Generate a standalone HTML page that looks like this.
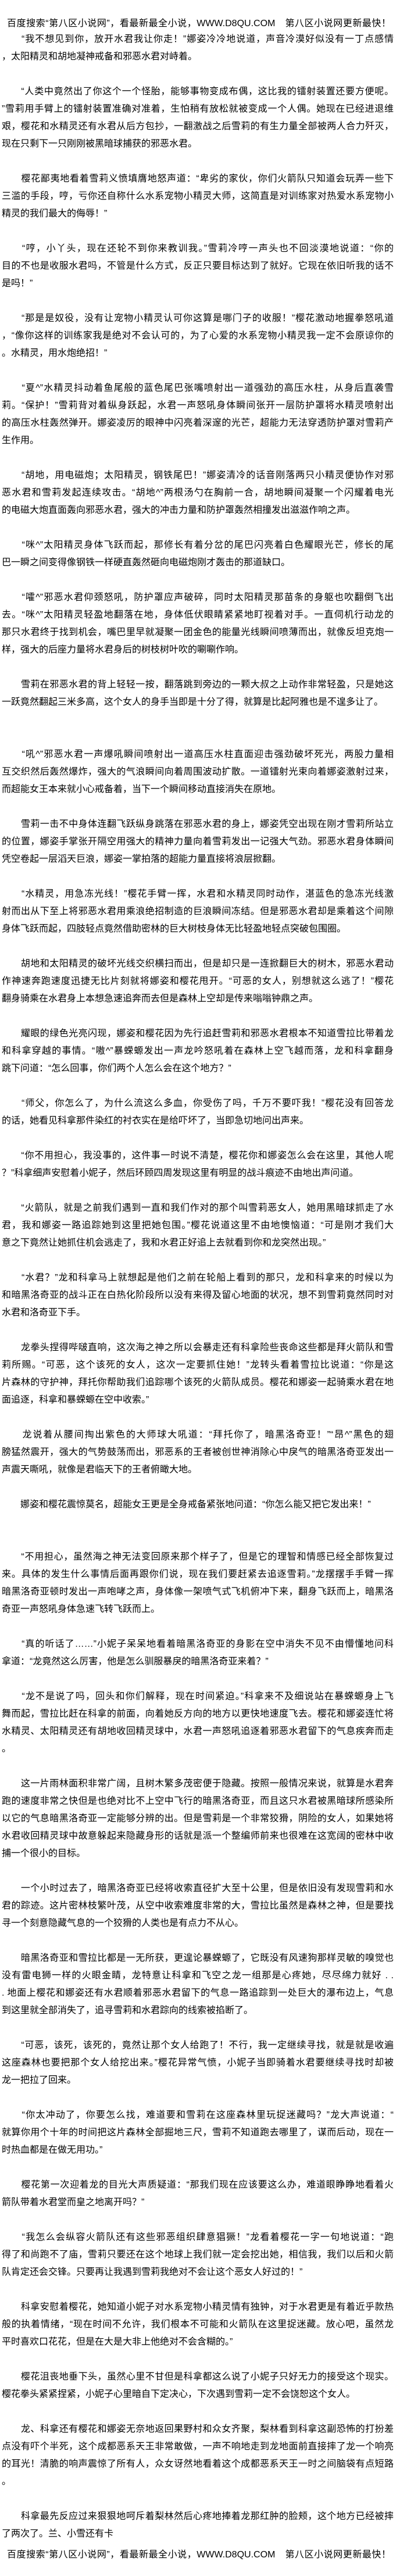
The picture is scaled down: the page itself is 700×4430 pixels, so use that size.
<!DOCTYPE html>
<html><head><meta charset="utf-8">
<style>
html,body{margin:0;padding:0;background:#fff;}
body{width:700px;height:4430px;overflow:hidden;position:relative;color:#000;
font-family:"Liberation Sans","Noto Sans CJK SC","WenQuanYi Zen Hei",sans-serif;font-size:16px;}
.hd{position:absolute;left:12px;width:660px;height:30px;line-height:30px;white-space:nowrap;text-align:justify;text-align-last:justify;}
#main{position:absolute;left:3px;top:53px;width:674px;}
.p{margin-bottom:30px;}
.p2{margin-bottom:60px;}
.f,.l{height:30px;line-height:30px;white-space:nowrap;}
.f{text-align:justify;text-align-last:justify;}
.l{text-align:left;}
</style></head><body>
<div class="hd" style="top:28px;height:25px;line-height:25px;">百度搜索“第八区小说网”，看最新最全小说，WWW.D8QU.COM　第八区小说网更新最快！</div>
<div id="main">
<div class="p"><div class="f">　　“我不想见到你，放开水君我让你走！”娜姿冷冷地说道，声音冷漠好似没有一丁点感情</div><div class="l">，太阳精灵和胡地凝神戒备和邪恶水君对峙着。</div></div>
<div class="p"><div class="f">　　“人类中竟然出了你这个一个怪胎，能够事物变成布偶，这比我的镭射装置还要方便呢。</div><div class="f">”雪莉用手臂上的镭射装置准确对准着，生怕稍有放松就被变成一个人偶。她现在已经进退维</div><div class="f">艰，樱花和水精灵还有水君从后方包抄，一翻激战之后雪莉的有生力量全部被两人合力歼灭，</div><div class="l">现在只剩下一只刚刚被黑暗球捕获的邪恶水君。</div></div>
<div class="p"><div class="f">　　樱花鄙夷地看着雪莉义愤填膺地怒声道：“卑劣的家伙，你们火箭队只知道会玩弄一些下</div><div class="f">三滥的手段，哼，亏你还自称什么水系宠物小精灵大师，这简直是对训练家对热爱水系宠物小</div><div class="l">精灵的我们最大的侮辱！”</div></div>
<div class="p"><div class="f">　　“哼，小丫头，现在还轮不到你来教训我。”雪莉冷哼一声头也不回淡漠地说道：“你的</div><div class="f">目的不也是收服水君吗，不管是什么方式，反正只要目标达到了就好。它现在依旧听我的话不</div><div class="l">是吗！”</div></div>
<div class="p"><div class="f">　　“那是是奴役，没有让宠物小精灵认可你这算是哪门子的收服！”樱花激动地握拳怒吼道</div><div class="f">，“像你这样的训练家我是绝对不会认可的，为了心爱的水系宠物小精灵我一定不会原谅你的</div><div class="l">。水精灵，用水炮绝招！”</div></div>
<div class="p"><div class="f">　　“夏^”水精灵抖动着鱼尾般的蓝色尾巴张嘴喷射出一道强劲的高压水柱，从身后直袭雪</div><div class="f">莉。“保护！”雪莉背对着纵身跃起，水君一声怒吼身体瞬间张开一层防护罩将水精灵喷射出</div><div class="f">的高压水柱轰然弹开。娜姿凌厉的眼神中闪亮着深邃的光芒，超能力无法穿透防护罩对雪莉产</div><div class="l">生作用。</div></div>
<div class="p"><div class="f">　　“胡地，用电磁炮；太阳精灵，钢铁尾巴！”娜姿清冷的话音刚落两只小精灵便协作对邪</div><div class="f">恶水君和雪莉发起连续攻击。“胡地^”两根汤勺在胸前一合，胡地瞬间凝聚一个闪耀着电光</div><div class="l">的电磁大炮直面轰向邪恶水君，强大的冲击力量和防护罩轰然相撞发出滋滋作响之声。</div></div>
<div class="p"><div class="f">　　“咪^”太阳精灵身体飞跃而起，那修长有着分岔的尾巴闪亮着白色耀眼光芒，修长的尾</div><div class="l">巴一瞬之间变得像钢铁一样硬直轰然砸向电磁炮刚才轰击的那道缺口。</div></div>
<div class="p"><div class="f">　　“嚯^”邪恶水君仰颈怒吼，防护罩应声破碎，同时太阳精灵那苗条的身躯也吹翻倒飞出</div><div class="f">去。“咪^”太阳精灵轻盈地翻落在地，身体低伏眼睛紧紧地盯视着对手。一直伺机行动龙的</div><div class="f">那只水君终于找到机会，嘴巴里早就凝聚一团金色的能量光线瞬间喷薄而出，就像反坦克炮一</div><div class="l">样，强大的后座力量将水君身后的树枝树叶吹的唰唰作响。</div></div>
<div class="p2"><div class="f">　　雪莉在邪恶水君的背上轻轻一按，翻落跳到旁边的一颗大叔之上动作非常轻盈，只是她这</div><div class="l">一跃竟然翻起三米多高，这个女人的身手当即是十分了得，就算是比起阿雅也是不遑多让了。</div></div>
<div class="p"><div class="f">　　“吼^”邪恶水君一声爆吼瞬间喷射出一道高压水柱直面迎击强劲破坏死光，两股力量相</div><div class="f">互交织然后轰然爆炸，强大的气浪瞬间向着周围波动扩散。一道镭射光束向着娜姿激射过来，</div><div class="l">而超能女王本来就小心戒备着，当下一个瞬间移动直接消失在原地。</div></div>
<div class="p"><div class="f">　　雪莉一击不中身体连翻飞跃纵身跳落在邪恶水君的身上，娜姿凭空出现在刚才雪莉所站立</div><div class="f">的位置，娜姿手掌张开隔空用强大的精神力量向着雪莉发出一记强大气劲。邪恶水君身体瞬间</div><div class="l">凭空卷起一层滔天巨浪，娜姿一掌拍落的超能力量直接将浪层掀翻。</div></div>
<div class="p"><div class="f">　　“水精灵，用急冻光线！”樱花手臂一挥，水君和水精灵同时动作，湛蓝色的急冻光线激</div><div class="f">射而出从下至上将邪恶水君用乘浪绝招制造的巨浪瞬间冻结。但是邪恶水君却是乘着这个间隙</div><div class="l">身体飞跃而起，四肢轻点竟然借助密林的巨大树枝身体无比轻盈地轻点突破包围圈。</div></div>
<div class="p"><div class="f">　　胡地和太阳精灵的破坏光线交织横扫而出，但是却只是一连掀翻巨大的树木，邪恶水君动</div><div class="f">作神速奔跑速度迅捷无比片刻就将娜姿和樱花甩开。“可恶的女人，别想就这么逃了！”樱花</div><div class="l">翻身骑乘在水君身上本想急速追奔而去但是森林上空却是传来嗡嗡钟鼎之声。</div></div>
<div class="p"><div class="f">　　耀眼的绿色光亮闪现，娜姿和樱花因为先行追赶雪莉和邪恶水君根本不知道雪拉比带着龙</div><div class="f">和科拿穿越的事情。“嗷^”暴蝾螈发出一声龙吟怒吼着在森林上空飞越而落，龙和科拿翻身</div><div class="l">跳下问道：“怎么回事，你们两个人怎么会在这个地方？”</div></div>
<div class="p"><div class="f">　　“师父，你怎么了，为什么流这么多血，你受伤了吗，千万不要吓我！”樱花没有回答龙</div><div class="l">的话，她看见科拿那件染红的衬衣实在是给吓坏了，当即急切地问出声来。</div></div>
<div class="p"><div class="f">　　“你不用担心，我没事的，这件事一时说不清楚，樱花你和娜姿怎么会在这里，其他人呢</div><div class="l">？”科拿细声安慰着小妮子，然后环顾四周发现这里有明显的战斗痕迹不由地出声问道。</div></div>
<div class="p"><div class="f">　　“火箭队，就是之前我们遇到一直和我们作对的那个叫雪莉恶女人，她用黑暗球抓走了水</div><div class="f">君，我和娜姿一路追踪她到这里把她包围。”樱花说道这里不由地懊恼道：“可是刚才我们大</div><div class="l">意之下竟然让她抓住机会逃走了，我和水君正好追上去就看到你和龙突然出现。”</div></div>
<div class="p"><div class="f">　　“水君？”龙和科拿马上就想起是他们之前在轮船上看到的那只，龙和科拿来的时候以为</div><div class="f">和暗黑洛奇亚的战斗正在白热化阶段所以没有来得及留心地面的状况，想不到雪莉竟然同时对</div><div class="l">水君和洛奇亚下手。</div></div>
<div class="p"><div class="f">　　龙拳头捏得哔啵直响，这次海之神之所以会暴走还有科拿险些丧命这些都是拜火箭队和雪</div><div class="f">莉所赐。“可恶，这个该死的女人，这次一定要抓住她！”龙转头看着雪拉比说道：“你是这</div><div class="f">片森林的守护神，拜托你帮助我们追踪哪个该死的火箭队成员。樱花和娜姿一起骑乘水君在地</div><div class="l">面追逐，科拿和暴蝾螈在空中收索。”</div></div>
<div class="p"><div class="f">　　龙说着从腰间掏出紫色的大师球大吼道：“拜托你了，暗黑洛奇亚！”“昂^”黑色的翅</div><div class="f">膀猛然震开，强大的气势鼓荡而出，邪恶系的王者被创世神消除心中戾气的暗黑洛奇亚发出一</div><div class="l">声震天嘶吼，就像是君临天下的王者俯瞰大地。</div></div>
<div class="p2"><div class="l">　　娜姿和樱花震惊莫名，超能女王更是全身戒备紧张地问道：“你怎么能又把它发出来！”</div></div>
<div class="p"><div class="f">　　“不用担心，虽然海之神无法变回原来那个样子了，但是它的理智和情感已经全部恢复过</div><div class="f">来。具体的发生什么事情后面再跟你们说，现在我们要赶紧去追逐雪莉。”龙摆摆手手臂一挥</div><div class="f">暗黑洛奇亚顿时发出一声咆哮之声，身体像一架喷气式飞机俯冲下来，翻身飞跃而上，暗黑洛</div><div class="l">奇亚一声怒吼身体急速飞转飞跃而上。</div></div>
<div class="p"><div class="f">　　“真的听话了……”小妮子呆呆地看着暗黑洛奇亚的身影在空中消失不见不由懵懂地问科</div><div class="l">拿道：“龙竟然这么厉害，他是怎么驯服暴戾的暗黑洛奇亚来着？”</div></div>
<div class="p"><div class="f">　　“龙不是说了吗，回头和你们解释，现在时间紧迫。”科拿来不及细说站在暴蝾螈身上飞</div><div class="f">舞而起，雪拉比赶在科拿的前面，向着她反方向的地方以更快地速度飞去。樱花和娜姿连忙将</div><div class="f">水精灵、太阳精灵还有胡地收回精灵球中，水君一声怒吼追逐着邪恶水君留下的气息疾奔而走</div><div class="l">。</div></div>
<div class="p"><div class="f">　　这一片雨林面积非常广阔，且树木繁多茂密便于隐藏。按照一般情况来说，就算是水君奔</div><div class="f">跑的速度非常之快但是也绝对比不上空中飞行的暗黑洛奇亚，而且这只水君被黑暗球所感染所</div><div class="f">以它的气息暗黑洛奇亚一定能够分辨的出。但是雪莉是一个非常狡猾，阴险的女人，如果她将</div><div class="f">水君收回精灵球中故意躲起来隐藏身形的话就是派一个整编师前来也很难在这宽阔的密林中收</div><div class="l">捕一个很小的目标。</div></div>
<div class="p"><div class="f">　　一个小时过去了，暗黑洛奇亚已经将收索直径扩大至十公里，但是依旧没有发现雪莉和水</div><div class="f">君的踪迹。这片密林枝繁叶茂，从空中收索难度非常的大，雪拉比虽然是森林之神，但是要找</div><div class="l">寻一个刻意隐藏气息的一个狡猾的人类也是有点力不从心。</div></div>
<div class="p"><div class="f">　　暗黑洛奇亚和雪拉比都是一无所获，更遑论暴蝾螈了，它既没有风速狗那样灵敏的嗅觉也</div><div class="f">没有雷电狮一样的火眼金睛，龙特意让科拿和飞空之龙一组那是心疼她，尽尽绵力就好 . .</div><div class="f">. 地面上樱花和娜姿还有水君顺着邪恶水君留下的气息一路追踪到一处巨大的瀑布边上，气息</div><div class="l">到这里就全部消失了，追寻雪莉和水君踪向的线索被掐断了。</div></div>
<div class="p"><div class="f">　　“可恶，该死，该死的，竟然让那个女人给跑了！不行，我一定继续寻找，就是就是收遍</div><div class="f">这座森林也要把那个女人给挖出来。”樱花异常气愤，小妮子当即骑着水君要继续寻找时却被</div><div class="l">龙一把拉了回来。</div></div>
<div class="p"><div class="f">　　“你太冲动了，你要怎么找，难道要和雪莉在这座森林里玩捉迷藏吗？”龙大声说道：“</div><div class="f">就算你用个十年的时间把这片森林全部掘地三尺，雪莉不知道跑去哪里了，谋而后动，现在一</div><div class="l">时热血都是在做无用功。”</div></div>
<div class="p"><div class="f">　　樱花第一次迎着龙的目光大声质疑道：“那我们现在应该要这么办，难道眼睁睁地看着火</div><div class="l">箭队带着水君堂而皇之地离开吗？”</div></div>
<div class="p"><div class="f">　　“我怎么会纵容火箭队还有这些邪恶组织肆意猖獗！”龙看着樱花一字一句地说道：“跑</div><div class="f">得了和尚跑不了庙，雪莉只要还在这个地球上我们就一定会挖出她，相信我，我们以后和火箭</div><div class="l">队肯定还会交锋。只要再让我遇到雪莉我绝对不会让这个恶女人好过的！”</div></div>
<div class="p"><div class="f">　　科拿安慰着樱花，她知道小妮子对水系宠物小精灵情有独钟，对于水君更是有着近乎款热</div><div class="f">般的执着情绪，“现在时间不允许，我们根本不可能和火箭队在这里捉迷藏。放心吧，虽然龙</div><div class="l">平时喜欢口花花，但是在大是大非上他绝对不会含糊的。”</div></div>
<div class="p"><div class="f">　　樱花沮丧地垂下头，虽然心里不甘但是科拿都这么说了小妮子只好无力的接受这个现实。</div><div class="l">樱花拳头紧紧捏紧，小妮子心里暗自下定决心，下次遇到雪莉一定不会饶恕这个女人。</div></div>
<div class="p"><div class="f">　　龙、科拿还有樱花和娜姿无奈地返回果野村和众女齐聚，梨林看到科拿这副恐怖的打扮差</div><div class="f">点没有吓个半死，这个成都恶系天王非常敢做，一声不响地走到龙地面前直接摔了龙一个响亮</div><div class="f">的耳光！清脆的响声震惊了所有人，众女讶然地看着这个成都恶系天王一时之间脑袋有点短路</div><div class="l">。</div></div>
<div class="p" style="margin-bottom:0"><div class="f">　　科拿最先反应过来狠狠地呵斥着梨林然后心疼地捧着龙那红肿的脸颊，这个地方已经被摔</div><div class="l">了两次了。兰、小雪还有卡</div></div>
</div>
<div class="hd" style="top:4379px;">百度搜索“第八区小说网”，看最新最全小说，WWW.D8QU.COM　第八区小说网更新最快！</div>
</body></html>
